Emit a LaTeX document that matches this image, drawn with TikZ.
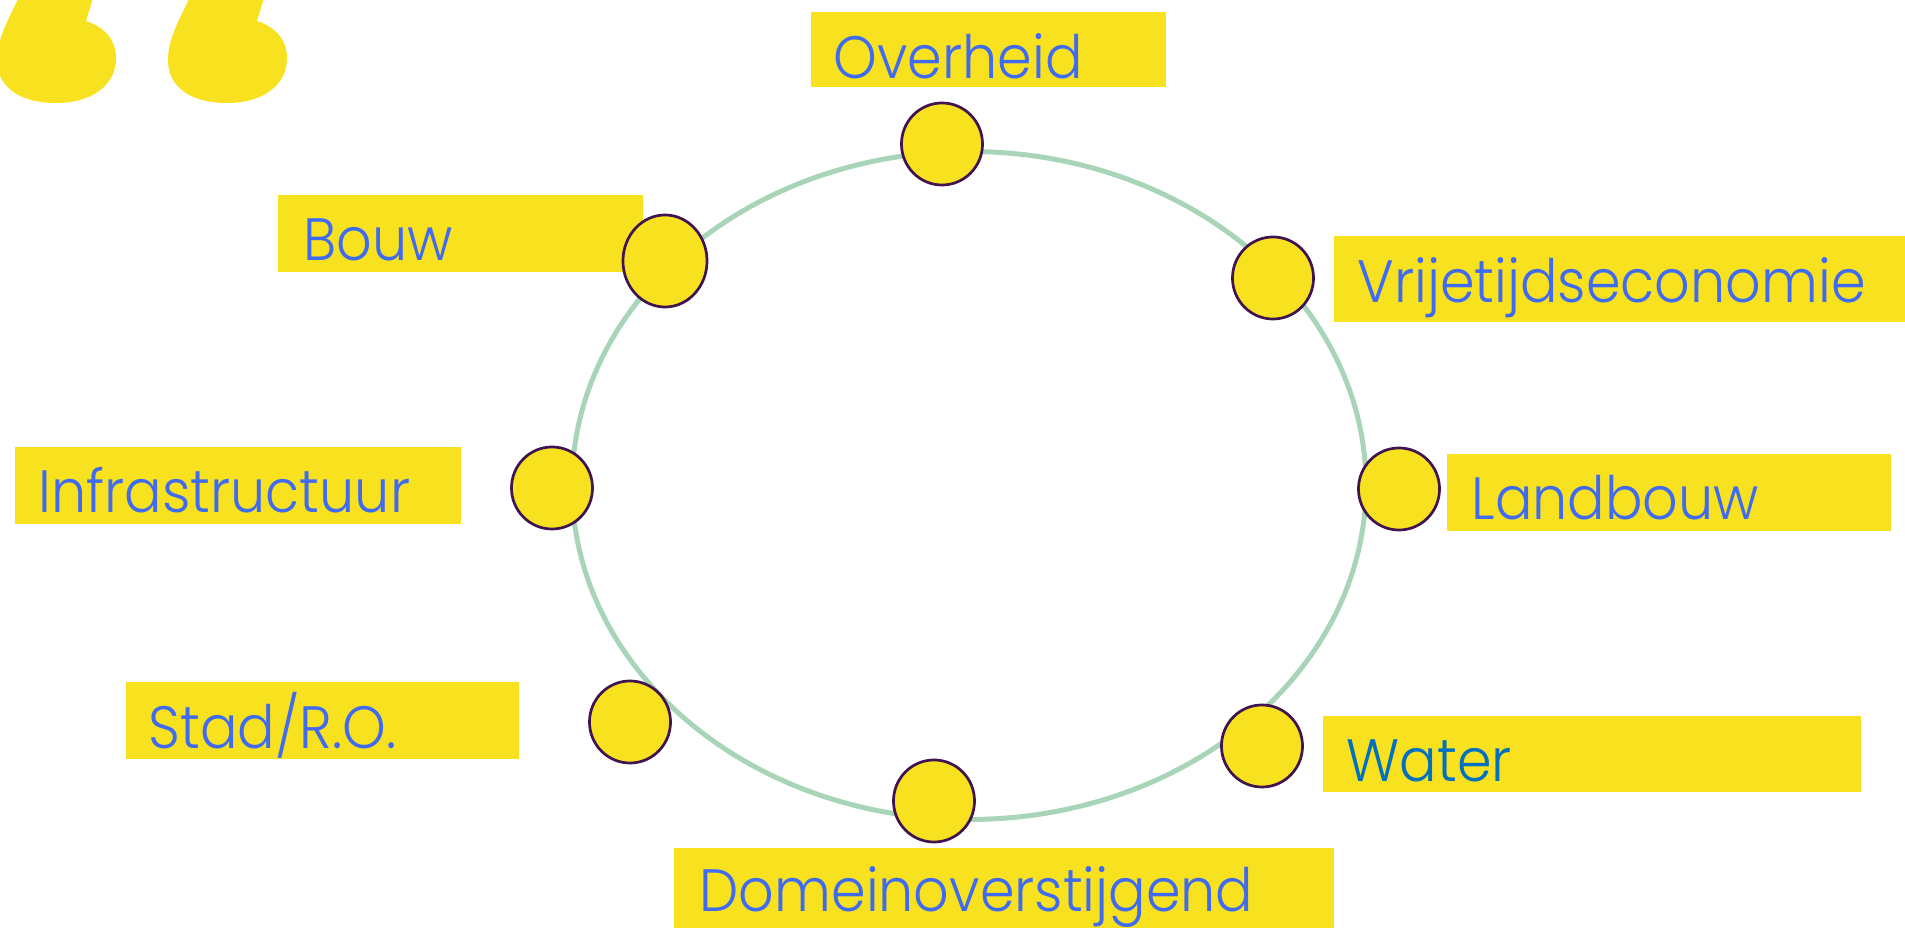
\documentclass[tikz,border=0pt]{standalone}
\usepackage{fontspec}
\setmainfont{Poppins Light}[FakeStretch=0.93]
\usetikzlibrary{shapes.geometric}

\definecolor{geel}{HTML}{F8E11E}
\definecolor{blauw}{HTML}{3F6AF2}
\definecolor{waterblauw}{HTML}{0070C0}
\definecolor{ringgroen}{HTML}{A8D4B8}
\definecolor{paars}{HTML}{401450}

\begin{document}
\begin{tikzpicture}[x=0.01cm, y=-0.01cm,
    balk/.style={fill=geel},
    tekst/.style={anchor=base west, inner sep=0pt, text=blauw, font=\fontsize{17}{20}\selectfont},
    bol/.style={ellipse, draw=paars, line width=0.77pt, fill=geel, inner sep=0pt, minimum width=0.81cm, minimum height=0.82cm}]
  	\useasboundingbox (0,0) rectangle (1905,928);

  	% aanhalingstekens
  	\begin{scope}
  	\clip (0,0) rectangle (1905,928);
  	\foreach \dx in {-171,0}{
  	\fill[geel, shift={(\dx,0)}] (268,-15) -- (257,21) .. controls (278,28) and (287,42) .. (287,58)
  	  .. controls (287,86) and (262,103) .. (227,103) .. controls (192,103) and (168,88) .. (168,60)
  	  .. controls (168,38) and (180,18) .. (196,-15) -- cycle;
  	}
  	\end{scope}

  	% balken
  	\fill[balk] (811,12) rectangle (1166,87);
  	\fill[balk] (278,195) rectangle (643,272);
  	\fill[balk] (1334,236) rectangle (1905,322);
  	\fill[balk] (1447,454) rectangle (1891,531);
  	\fill[balk] (15,447) rectangle (461,524);
  	\fill[balk] (126,682) rectangle (519,759);
  	\fill[balk] (1323,716) rectangle (1861,792);
  	\fill[balk] (674,848) rectangle (1334,928);

  	% ring
  	\draw[ringgroen, line width=1.42pt] (969,485.5) ellipse [x radius=397, y radius=334];

  	% bollen
  	\node[bol] (cOverheid) at (942,144) {};
  	\node[bol, minimum width=0.84cm, minimum height=0.92cm] (cBouw) at (665,261) {};
  	\node[bol] (cVrije) at (1273,278) {};
  	\node[bol] (cLandbouw) at (1399,489) {};
  	\node[bol] (cWater) at (1262,746) {};
  	\node[bol] (cDomein) at (934,801) {};
  	\node[bol] (cStad) at (630,722) {};
  	\node[bol] (cInfra) at (552,488) {};

  	% teksten
  	\node[tekst] (tOverheid) at (833,79) {Overheid};
  	\node[tekst] (tBouw) at (303,261) {Bouw};
  	\node[tekst] (tVrije) at (1357,303) {Vrijetijdseconomie};
  	\node[tekst] (tLandbouw) at (1471,520) {Landbouw};
  	\node[tekst] (tInfra) at (38,513) {Infrastructuur};
  	\node[tekst] (tStad) at (148,749) {Stad/R.O.};
  	\node[tekst, text=waterblauw] (tWater) at (1346,782) {Water};
  	\node[tekst] (tDomein) at (699,912) {Domeinoverstijgend};
\end{tikzpicture}
\end{document}
